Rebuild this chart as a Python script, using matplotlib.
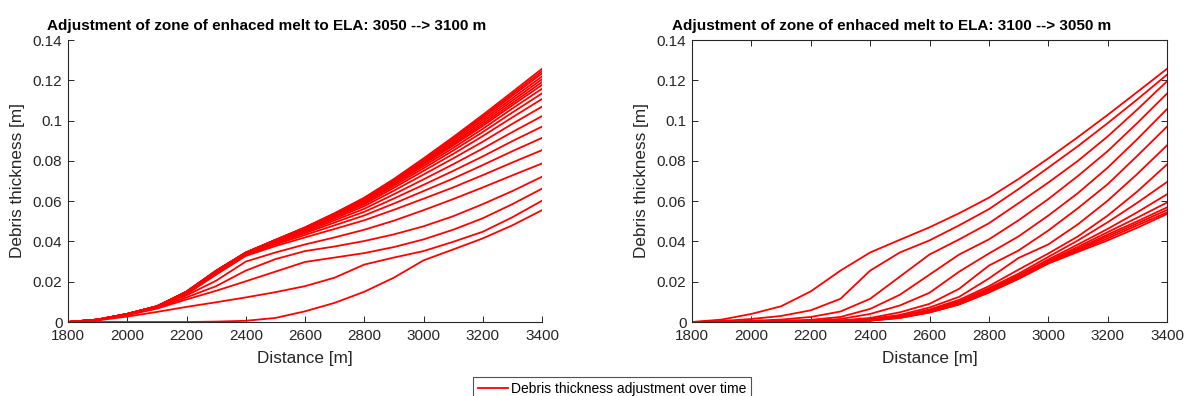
import matplotlib
matplotlib.use('Agg')
import matplotlib.pyplot as plt
from matplotlib.ticker import FuncFormatter

plt.rcParams['font.family'] = ['Liberation Sans', 'DejaVu Sans']

# ---------------- data ----------------
distance = [1800, 1900, 2000, 2100, 2200, 2300, 2400, 2500, 2600,
            2700, 2800, 2900, 3000, 3100, 3200, 3300, 3400]

# ELA 3050 -> 3100 m : debris thickness profiles over time [m]
left_profiles = [
    [0, 0, 0, 0, 0, 0.0002, 0.0006, 0.002, 0.0053, 0.0095, 0.015, 0.022, 0.0306, 0.036, 0.0415, 0.048, 0.0555],
    [0, 0.0008, 0.0027, 0.005, 0.0075, 0.0098, 0.0122, 0.0148, 0.0178, 0.022, 0.0285, 0.032, 0.0352, 0.0398, 0.0448, 0.052, 0.0602],
    [0, 0.001, 0.0034, 0.0066, 0.0112, 0.0155, 0.0202, 0.025, 0.0298, 0.032, 0.0342, 0.0372, 0.041, 0.0458, 0.0515, 0.0585, 0.0662],
    [0, 0.001, 0.0036, 0.007, 0.0122, 0.0178, 0.0255, 0.0312, 0.0352, 0.0375, 0.0402, 0.0435, 0.0475, 0.0525, 0.0585, 0.065, 0.0721],
    [0, 0.001, 0.0038, 0.0074, 0.0132, 0.0205, 0.030, 0.0345, 0.0385, 0.042, 0.0458, 0.0503, 0.0555, 0.061, 0.0668, 0.0728, 0.0787],
    [0, 0.0011, 0.0039, 0.0076, 0.0137, 0.0235, 0.0328, 0.0377, 0.042, 0.0462, 0.0505, 0.0557, 0.0612, 0.0668, 0.0729, 0.0792, 0.0853],
    [0, 0.0011, 0.0039, 0.0077, 0.0139, 0.024, 0.0332, 0.0385, 0.0432, 0.048, 0.0529, 0.0588, 0.065, 0.0712, 0.0779, 0.0848, 0.0914],
    [0, 0.0011, 0.0039, 0.0077, 0.0141, 0.0244, 0.0336, 0.039, 0.0441, 0.0494, 0.0547, 0.0613, 0.0681, 0.075, 0.0822, 0.0898, 0.097],
    [0, 0.0012, 0.004, 0.0077, 0.0142, 0.0246, 0.0338, 0.0394, 0.0447, 0.0505, 0.0562, 0.0634, 0.0708, 0.0783, 0.0861, 0.0943, 0.1022],
    [0, 0.0012, 0.004, 0.0077, 0.0143, 0.0248, 0.034, 0.0398, 0.0453, 0.0514, 0.0575, 0.0652, 0.0732, 0.0812, 0.0895, 0.0984, 0.1069],
    [0, 0.0012, 0.004, 0.0077, 0.0144, 0.0249, 0.0341, 0.04, 0.0456, 0.052, 0.0584, 0.0666, 0.075, 0.0834, 0.0923, 0.1016, 0.1107],
    [0, 0.0012, 0.004, 0.0077, 0.0145, 0.025, 0.0342, 0.0402, 0.0459, 0.0525, 0.0591, 0.0676, 0.0763, 0.0851, 0.0943, 0.104, 0.1135],
    [0, 0.0012, 0.004, 0.0078, 0.0146, 0.0251, 0.0342, 0.0403, 0.0461, 0.0529, 0.0596, 0.0684, 0.0774, 0.0864, 0.0959, 0.106, 0.1158],
    [0, 0.0012, 0.004, 0.0078, 0.0147, 0.0252, 0.0343, 0.0404, 0.0463, 0.0532, 0.0601, 0.069, 0.0783, 0.0876, 0.0973, 0.1076, 0.1177],
    [0, 0.0012, 0.004, 0.0078, 0.0148, 0.0253, 0.0343, 0.0405, 0.0464, 0.0532, 0.0603, 0.0692, 0.0787, 0.0883, 0.0982, 0.1087, 0.1191],
    [0, 0.0012, 0.004, 0.0078, 0.0149, 0.0253, 0.0344, 0.0406, 0.0466, 0.0533, 0.0606, 0.0695, 0.0791, 0.0889, 0.0992, 0.1099, 0.1205],
    [0, 0.0012, 0.004, 0.0078, 0.015, 0.0254, 0.0344, 0.0406, 0.0467, 0.0535, 0.0609, 0.0699, 0.0797, 0.0897, 0.1002, 0.1111, 0.1219],
    [0, 0.0012, 0.004, 0.0078, 0.015, 0.0254, 0.0344, 0.0407, 0.0468, 0.0537, 0.0612, 0.0703, 0.0803, 0.0905, 0.1012, 0.1123, 0.1234],
    [0, 0.0012, 0.004, 0.0078, 0.0151, 0.0255, 0.0345, 0.0407, 0.0469, 0.0539, 0.0615, 0.0707, 0.0808, 0.0911, 0.102, 0.1132, 0.1245],
    [0, 0.0012, 0.004, 0.0078, 0.0152, 0.0255, 0.0345, 0.0408, 0.047, 0.054, 0.0617, 0.071, 0.0812, 0.0918, 0.1028, 0.1142, 0.1257],
]

# ELA 3100 -> 3050 m : debris thickness profiles over time [m]
right_profiles = [
    [0, 0.0012, 0.004, 0.0078, 0.0152, 0.0255, 0.0345, 0.0408, 0.047, 0.054, 0.0617, 0.071, 0.0812, 0.0918, 0.1028, 0.1142, 0.1257],
    [0, 0.0005, 0.0015, 0.003, 0.0058, 0.0115, 0.0255, 0.0345, 0.0405, 0.048, 0.056, 0.066, 0.0766, 0.0873, 0.0987, 0.1105, 0.1228],
    [0, 0.0002, 0.0006, 0.0012, 0.0025, 0.0052, 0.0115, 0.0225, 0.0335, 0.041, 0.049, 0.059, 0.0692, 0.080, 0.0921, 0.1055, 0.1195],
    [0, 0.0001, 0.0003, 0.0006, 0.0011, 0.0025, 0.0065, 0.0135, 0.0235, 0.0335, 0.041, 0.0505, 0.061, 0.0725, 0.0848, 0.0988, 0.1134],
    [0, 0, 0.0001, 0.0003, 0.0006, 0.0015, 0.004, 0.0082, 0.0145, 0.025, 0.034, 0.0425, 0.0528, 0.064, 0.0766, 0.0908, 0.1057],
    [0, 0, 0, 0.0001, 0.0003, 0.0008, 0.002, 0.0048, 0.009, 0.0165, 0.028, 0.0355, 0.0454, 0.0565, 0.0684, 0.0825, 0.097],
    [0, 0, 0, 0.0001, 0.0002, 0.0006, 0.0015, 0.0035, 0.0072, 0.0125, 0.0216, 0.0318, 0.0385, 0.0485, 0.0602, 0.0735, 0.0877],
    [0, 0, 0, 0, 0.0002, 0.0005, 0.0012, 0.003, 0.0062, 0.011, 0.0178, 0.026, 0.034, 0.0425, 0.0528, 0.0648, 0.0782],
    [0, 0, 0, 0, 0.0001, 0.0004, 0.0011, 0.0028, 0.0058, 0.0103, 0.0168, 0.024, 0.0323, 0.0405, 0.0495, 0.0592, 0.0695],
    [0, 0, 0, 0, 0.0001, 0.0004, 0.001, 0.0026, 0.0055, 0.0098, 0.0162, 0.0232, 0.031, 0.0385, 0.0462, 0.0545, 0.0634],
    [0, 0, 0, 0, 0.0001, 0.0003, 0.0009, 0.0024, 0.0052, 0.0094, 0.0157, 0.0226, 0.0303, 0.0373, 0.0446, 0.0518, 0.0593],
    [0, 0, 0, 0, 0.0001, 0.0003, 0.0008, 0.0023, 0.005, 0.0091, 0.0153, 0.0222, 0.0298, 0.0365, 0.0434, 0.05, 0.0569],
    [0, 0, 0, 0, 0.0001, 0.0003, 0.0008, 0.0022, 0.0049, 0.0089, 0.015, 0.0219, 0.0295, 0.036, 0.0425, 0.049, 0.0556],
    [0, 0, 0, 0, 0, 0.0002, 0.0007, 0.0021, 0.0048, 0.0088, 0.0148, 0.0216, 0.0292, 0.0354, 0.0415, 0.048, 0.0544],
    [0, 0, 0, 0, 0, 0.0002, 0.0007, 0.002, 0.0047, 0.0087, 0.0146, 0.0214, 0.029, 0.0348, 0.0405, 0.0468, 0.0536],
]

titles = ["Adjustment of zone of enhaced melt to ELA: 3050 --> 3100 m",
          "Adjustment of zone of enhaced melt to ELA: 3100 --> 3050 m"]
xlabel = "Distance [m]"
ylabel = "Debris thickness [m]"
legend_label = "Debris thickness adjustment over time"
xticks = [1800, 2000, 2200, 2400, 2600, 2800, 3000, 3200, 3400]
yticks = [0, 0.02, 0.04, 0.06, 0.08, 0.1, 0.12, 0.14]

# ---------------- figure ----------------
W, H = 1187, 396
fig = plt.figure(figsize=(W / 100, H / 100), dpi=100)

def frac_box(x0, x1, ytop, ybot):
    return [x0 / W, 1 - ybot / H, (x1 - x0) / W, (ybot - ytop) / H]

axL = fig.add_axes(frac_box(68, 542, 40, 322))
axR = fig.add_axes(frac_box(692, 1167, 40, 322))

AXC = '#262626'
RED = '#ff0000'
handle = None
for ax, profiles, title, boxed in [(axL, left_profiles, titles[0], False),
                                   (axR, right_profiles, titles[1], True)]:
    for prof in profiles:
        ln, = ax.plot(distance, prof, color=RED, lw=1.3, solid_joinstyle='round')
        if handle is None:
            handle = ln
    ax.set_xlim(1800, 3400)
    ax.set_ylim(0, 0.14)
    ax.set_xticks(xticks)
    ax.set_yticks(yticks)
    ax.yaxis.set_major_formatter(FuncFormatter(lambda v, p: '%g' % v))
    ax.tick_params(direction='in', length=4, width=0.7, colors=AXC,
                   labelsize=11, top=boxed, right=boxed)
    ax.tick_params(axis='x', pad=5)
    ax.tick_params(axis='y', pad=4)
    for side in ['left', 'bottom', 'top', 'right']:
        ax.spines[side].set_color(AXC)
        ax.spines[side].set_linewidth(0.8)
    if not boxed:
        ax.spines['top'].set_visible(False)
        ax.spines['right'].set_visible(False)
    ax.set_xlabel(xlabel, fontsize=12.3, color=AXC, va='center')
    ax.xaxis.set_label_coords(0.5, -37 / 282)
    ax.set_ylabel(ylabel, fontsize=12.3, color=AXC, va='center')
    ax.yaxis.set_label_coords(-50 / 474, 0.5)
    ax.set_title(title, fontsize=11, fontweight='bold', x=0.42, pad=7)

handle.set_label(legend_label)
leg = fig.legend(handles=[handle], loc='upper center',
                 bbox_to_anchor=(612 / W, 1 - 377 / H), borderaxespad=0,
                 fontsize=10, frameon=True, fancybox=False,
                 handlelength=2.2, handletextpad=0.2, borderpad=0.35)
leg.get_frame().set_edgecolor(AXC)
leg.get_frame().set_linewidth(0.8)

fig.savefig('out.png', dpi=100)
